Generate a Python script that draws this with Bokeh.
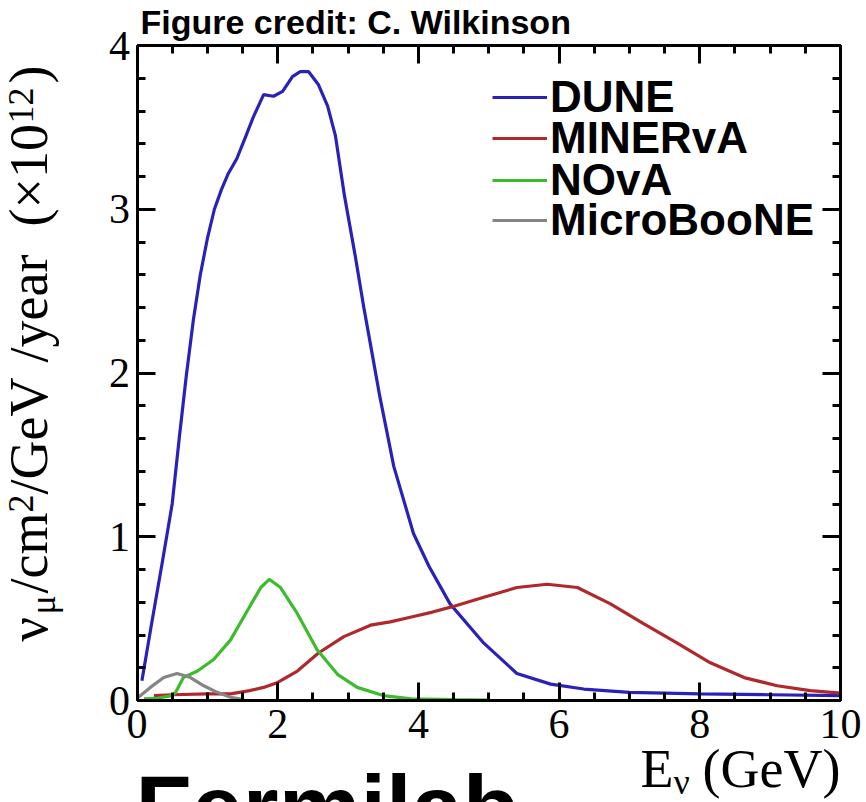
import math
from bokeh.plotting import figure
from bokeh.models import Range1d, LinearAxis, FixedTicker, Label, Legend, LegendItem
from bokeh.embed import file_html
from bokeh.resources import INLINE

# ---------------- data ----------------
dune_e = [0.07, 0.2, 0.35, 0.5, 0.6, 0.7, 0.8, 0.9, 1.0, 1.1, 1.2, 1.3, 1.42, 1.55, 1.65, 1.8,
          1.94, 2.07, 2.21, 2.32, 2.44, 2.58, 2.71, 2.82, 2.95, 3.1, 3.22, 3.35, 3.45, 3.65,
          3.93, 4.15, 4.45, 4.93, 5.4, 5.88, 6.35, 7.0, 8.0, 9.0, 10.0]
dune_flux = [0.12, 0.45, 0.82, 1.20, 1.60, 1.98, 2.32, 2.60, 2.82, 3.00, 3.12, 3.22, 3.31, 3.45,
             3.56, 3.70, 3.69, 3.72, 3.81, 3.84, 3.84, 3.76, 3.63, 3.45, 3.08, 2.72, 2.41, 2.10,
             1.86, 1.43, 1.02, 0.82, 0.59, 0.35, 0.165, 0.10, 0.07, 0.05, 0.04, 0.035, 0.03]

minerva_e = [0.24, 0.5, 1.0, 1.33, 1.6, 1.8, 2.0, 2.28, 2.58, 2.94, 3.32, 3.6, 3.9, 4.2, 4.46,
             4.93, 5.4, 5.83, 6.26, 6.73, 7.2, 7.68, 8.15, 8.63, 9.1, 9.57, 10.0]
minerva_flux = [0.03, 0.035, 0.04, 0.04, 0.06, 0.08, 0.11, 0.18, 0.29, 0.39, 0.46, 0.48, 0.51,
                0.54, 0.57, 0.63, 0.69, 0.71, 0.69, 0.59, 0.47, 0.35, 0.23, 0.14, 0.09, 0.06, 0.045]

nova_e = [0.1, 0.3, 0.5, 0.55, 0.66, 0.86, 1.09, 1.33, 1.57, 1.76, 1.88, 2.04, 2.28, 2.56, 2.85,
          3.13, 3.5, 3.9, 4.5, 5.0]
nova_flux = [0.01, 0.015, 0.03, 0.05, 0.14, 0.18, 0.25, 0.37, 0.55, 0.69, 0.74, 0.69, 0.53, 0.31,
             0.16, 0.08, 0.03, 0.01, 0.005, 0.003]

uboone_e = [0.02, 0.19, 0.38, 0.57, 0.76, 0.95, 1.14, 1.33, 1.52]
uboone_flux = [0.02, 0.08, 0.14, 0.165, 0.14, 0.09, 0.05, 0.02, 0.005]

series_names = ["DUNE", "MINERvA", "NOvA", "MicroBooNE"]
series_colors = ["#2a22b8", "#b0282c", "#3cbb2c", "#858585"]

x_major = [0, 2, 4, 6, 8, 10]
x_minor = [i * 0.5 for i in range(21)]
y_major = [0, 1, 2, 3, 4]
y_minor = [round(i * 0.2, 1) for i in range(21)]
x_lim = (0, 10)
y_lim = (0, 4)

# ---------------- figure ----------------
W, H = 866, 802
BOX_L, BOX_R, BOX_T, BOX_B = 136.5, 840.0, 45.0, 700.0   # pixel box of the axes
sx = (BOX_R - BOX_L) / (x_lim[1] - x_lim[0])
sy = (BOX_B - BOX_T) / (y_lim[1] - y_lim[0])
xr = Range1d(x_lim[0] - BOX_L / sx, x_lim[1] + (W - BOX_R) / sx)
yr = Range1d(y_lim[0] - (H - BOX_B) / sy, y_lim[1] + BOX_T / sy)

p = figure(width=W, height=H, min_border=0, x_range=xr, y_range=yr,
           output_backend="svg", toolbar_location=None,
           background_fill_color="white", border_fill_color="white",
           x_axis_location=None, y_axis_location=None)
p.title.visible = False
p.xgrid.visible = False
p.ygrid.visible = False
p.outline_line_color = None

def make_axis(ticks, minor, bounds, loc, show_labels, standoff):
    ax = LinearAxis(fixed_location=loc, bounds=bounds)
    ax.ticker = FixedTicker(ticks=ticks, minor_ticks=minor)
    ax.axis_line_width = 3
    ax.axis_line_color = "black"
    ax.major_tick_line_width = 3
    ax.minor_tick_line_width = 3
    ax.major_tick_line_color = "black"
    ax.minor_tick_line_color = "black"
    ax.major_tick_in = 18
    ax.major_tick_out = 0
    ax.minor_tick_in = 8
    ax.minor_tick_out = 0
    ax.major_label_text_font = "Liberation Serif"
    ax.major_label_text_font_size = "42px"
    ax.major_label_standoff = standoff
    ax.major_label_text_color = "black" if show_labels else None
    return ax

p.add_layout(make_axis(x_major, x_minor, x_lim, y_lim[0], True, 9), "below")
p.add_layout(make_axis(x_major, x_minor, x_lim, y_lim[1], False, 0), "above")
p.add_layout(make_axis(y_major, y_minor, y_lim, x_lim[0], True, 7), "left")
p.add_layout(make_axis(y_major, y_minor, y_lim, x_lim[1], False, 0), "right")

# ---------------- curves ----------------
data = [(dune_e, dune_flux), (minerva_e, minerva_flux), (nova_e, nova_flux), (uboone_e, uboone_flux)]
renderers = []
for (xs, ys), col in zip(data, series_colors):
    renderers.append(p.line(xs, ys, line_color=col, line_width=3.2))

# one legend per row, so the rows sit as tightly as in the original
row_centres = [97, 138, 180, 220]
for name, r, rc in zip(series_names, renderers, row_centres):
    lg = Legend(items=[LegendItem(label=name, renderers=[r])], location=(492, H - rc - 25))
    lg.label_text_font = "Liberation Sans"
    lg.label_text_font_style = "bold"
    lg.label_text_font_size = "44px"
    lg.label_text_color = "black"
    lg.glyph_width = 55
    lg.label_standoff = 3
    lg.padding = 0
    lg.margin = 0
    lg.border_line_alpha = 0
    lg.background_fill_alpha = 0
    p.add_layout(lg, "center")

# ---------------- texts ----------------
SHIFT = 0.33   # measured offset of the rendered baseline, in em

def lab(text, bx, by, size, font="Liberation Serif", style="normal", rotated=False):
    """bx, by: wanted baseline start in canvas pixels (from top-left)."""
    if rotated:
        cx, cy, ang = bx - SHIFT * size, by, math.pi / 2
    else:
        cx, cy, ang = bx, by - SHIFT * size, 0.0
    p.add_layout(Label(x=cx, y=H - cy, x_units="screen", y_units="screen",
                       text=text, text_font=font, text_font_style=style,
                       text_font_size=f"{size}px", text_color="black", angle=ang,
                       text_align="left", text_baseline="alphabetic"))

lab("Figure credit: C. Wilkinson", 140, 33, 34, font="Liberation Sans", style="bold")

# x-axis title: E_nu (GeV)
lab("E", 640, 786, 54)
lab("ν", 673, 793, 36)
lab("(GeV)", 702, 786, 54)

# y-axis title, rotated: nu_mu/cm^2/GeV/year (x10^12)
BX = 46
SUP = BX - 14
lab("ν", BX, 641, 54, rotated=True)
lab("μ", BX + 8, 614, 36, rotated=True)
lab("/cm", BX, 593, 54, rotated=True)
lab("2", SUP, 512, 36, rotated=True)
lab("/GeV", BX, 494, 54, rotated=True)
lab("/year", BX, 362, 54, rotated=True)
lab("(×10", BX, 226, 54, rotated=True)
lab("12", SUP, 123, 36, rotated=True)
lab(")", BX, 83, 54, rotated=True)

# slide logo partly visible at the bottom
lab("Fermilab", 135, 838, 92, font="Liberation Sans", style="bold")

open("out.html", "w").write(file_html(p, INLINE))
